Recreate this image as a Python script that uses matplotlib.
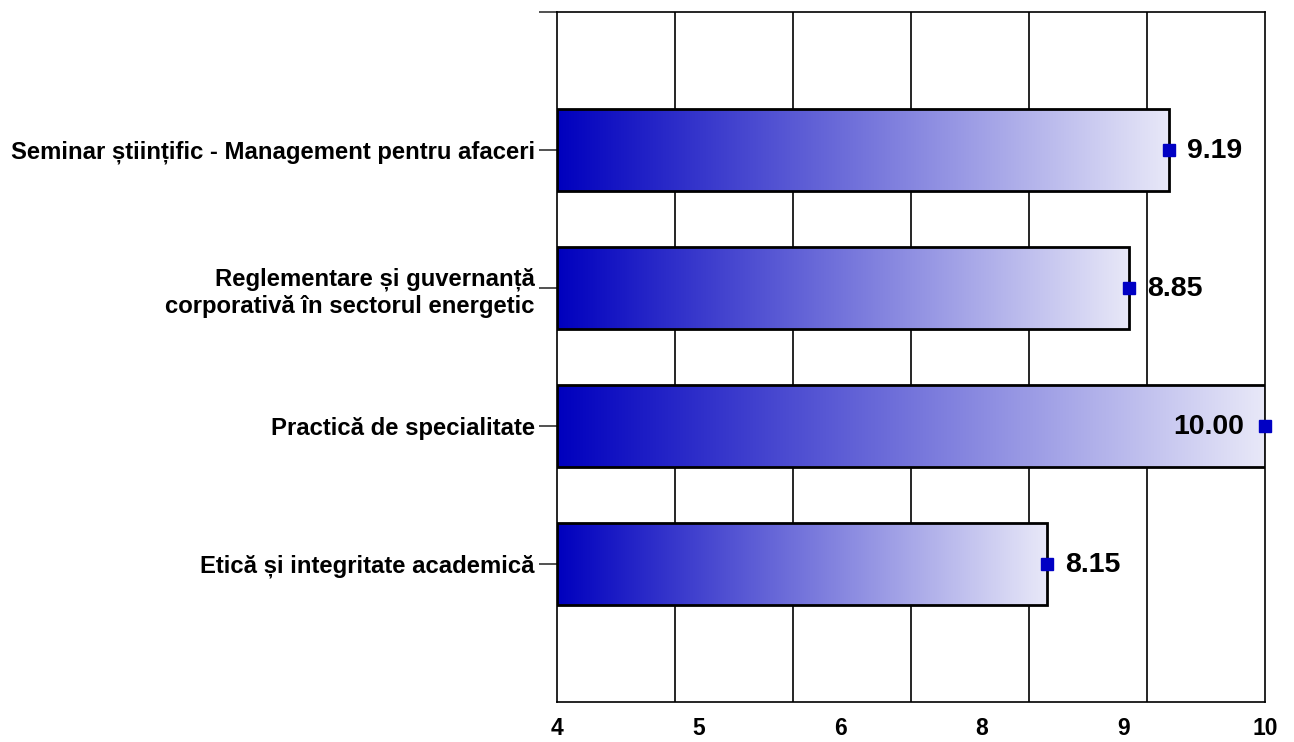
import matplotlib
matplotlib.use("Agg")
import matplotlib.pyplot as plt
import numpy as np
from matplotlib.colors import LinearSegmentedColormap

categories = [
    "Seminar științific - Management pentru afaceri",
    "Reglementare și guvernanță\ncorporativă în sectorul energetic",
    "Practică de specialitate",
    "Etică și integritate academică",
]
values = [9.19, 8.85, 10.00, 8.15]
xtick_labels = ["4", "5", "6", "8", "9", "10"]
x_min, x_max = 4, 10

plt.rcParams['font.family'] = ['Liberation Sans', 'DejaVu Sans']

fig = plt.figure(figsize=(12.94, 7.42), dpi=100)
ax = fig.add_axes([557/1294, 40/742, 708/1294, 690/742])

cmap = LinearSegmentedColormap.from_list("g", [(0/255, 0/255, 190/255), (232/255, 232/255, 248/255)])
grad = np.linspace(0, 1, 256).reshape(1, -1)

ypos = np.arange(1, len(categories) + 1)
bar_h = 0.59
bars = ax.barh(ypos, [v - x_min for v in values], left=x_min, height=bar_h,
               facecolor='none', edgecolor='black', linewidth=2.0, zorder=4)
for b, y, v in zip(bars, ypos, values):
    im = ax.imshow(grad, extent=[x_min, v, y - bar_h/2, y + bar_h/2], aspect='auto',
                   cmap=cmap, zorder=3, interpolation='bicubic')
    im.set_clip_path(b)
    ax.plot([v], [y], marker='s', markersize=9, color='#0000C4', zorder=6, clip_on=False)
    if v >= x_max - 0.3:
        ax.annotate(f"{v:.2f}", (v, y), xytext=(-15, -1), textcoords='offset points',
                    ha='right', va='center', fontsize=20.5, fontweight='bold', zorder=7)
    else:
        ax.annotate(f"{v:.2f}", (v, y), xytext=(13, -1), textcoords='offset points',
                    ha='left', va='center', fontsize=20.5, fontweight='bold', zorder=7)

ax.set_xlim(x_min, x_max)
ax.set_ylim(len(categories) + 1, 0)

ax.set_xticks(np.linspace(x_min, x_max, len(xtick_labels)))
ax.set_xticklabels(xtick_labels, fontsize=16.5, fontweight='bold')
ax.set_xticks(np.arange(x_min + 1, x_max), minor=True)
ax.tick_params(axis='x', which='both', length=0, pad=11)
ax.grid(which='minor', axis='x', color='black', linewidth=1.2, zorder=1)
ax.grid(which='major', axis='x', visible=False)

ax.set_yticks(np.arange(0, len(categories) + 1))
ax.set_yticklabels([""] + categories, fontsize=17.2, fontweight='bold', linespacing=1.25)
ax.tick_params(axis='y', length=13, width=1.2, color='#333333', pad=3)

for s in ax.spines.values():
    s.set_color('black')
    s.set_linewidth(1.2)
ax.set_axisbelow(True)

fig.savefig("out.png", dpi=100)
